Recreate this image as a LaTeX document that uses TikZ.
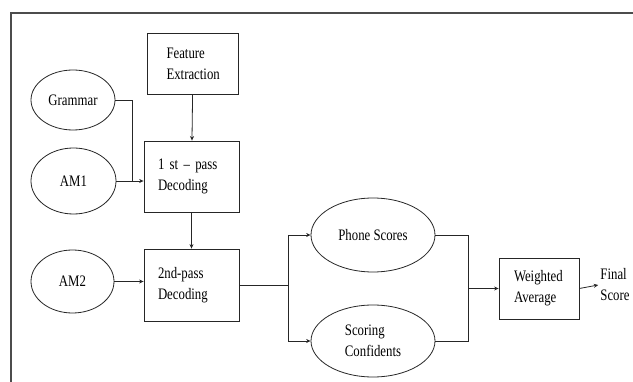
\documentclass[tikz,border=0pt]{standalone}
\usepackage{fontspec}
\setmainfont{Liberation Serif}[FakeStretch=0.8]
\usetikzlibrary{arrows.meta,shapes.geometric}

\tikzset{
  box/.style={draw=black!85, line width=0.8pt, rectangle, align=left, inner ysep=2pt},
  oval/.style={draw=black!85, line width=0.8pt, ellipse, inner sep=0pt, align=left},
  link/.style={black!85, line width=0.8pt},
  arr/.style={link, -{Stealth[length=4.5pt,width=4pt]}}
}

\begin{document}
\begin{tikzpicture}[x=1pt,y=-1pt,font=\fontsize{16}{21}\selectfont]
\useasboundingbox (0,0) rectangle (633,382);

%frame
\draw[black!70, line width=1.3pt] (11,382) -- (11,13) -- (633,13);

%boxes
\node[box, text width=53pt, inner xsep=19pt, minimum height=61pt] (feat) at (193,63.5) {Feature\\Extraction};
\node[box, text width=67pt, inner xsep=14pt, minimum height=71pt] (pass1) at (191.5,176.5) {1 st – pass\\Decoding};
\node[box, text width=67pt, inner xsep=14pt, minimum height=72pt] (pass2) at (191.5,285) {2nd-pass\\Decoding};
\node[box, text width=50pt, inner xsep=15pt, minimum height=61pt] (wavg) at (539,288.5) {Weighted\\Average};

%ovals
\node[oval, minimum width=84pt, minimum height=60pt] (gram) at (73,100) {Grammar};
\node[oval, minimum width=85pt, minimum height=66pt] (am1) at (73.5,181) {AM1};
\node[oval, minimum width=83pt, minimum height=63pt] (am2) at (72.5,281.5) {AM2};
\node[oval, minimum width=124pt, minimum height=74pt] (phone) at (373,235) {Phone Scores};
\node[oval, minimum width=124pt, minimum height=72pt] (score) at (373,341) {Scoring\\Confidents};

\node[align=left, inner sep=2pt] (final) at (615,285) {Final\\Score};

%junctions
\coordinate (j1) at (132,181);
\coordinate (split) at (288,285);
\coordinate (merge) at (468,288.5);

%Feature->1st pass
\draw[arr] (feat) -- (pass1);

%Grammar,AM1->1st pass
\draw[link] (gram.east) -| (j1);
\draw[arr] (am1.east) -- (am1 -| pass1.west);

%1st pass->2nd pass
\draw[arr] (pass1) -- (pass2);

%AM2->2nd pass
\draw[arr] (am2.east) -- (am2 -| pass2.west);

%2nd pass->Phone,Scoring
\draw[link] (pass2.east |- split) -- (split);
\draw[link] (split |- phone) -- (split |- score);
\draw[arr] (split |- phone) -- (phone.west);
\draw[arr] (split |- score) -- (score.west);

%Phone,Scoring->Weighted
\draw[link] (phone.east) -| (merge);
\draw[link] (score.east) -| (merge);
\draw[arr] (merge) -- (wavg.west);

%Weighted->Final
\draw[arr] (wavg.east) -- (final.west);

\end{tikzpicture}
\end{document}
